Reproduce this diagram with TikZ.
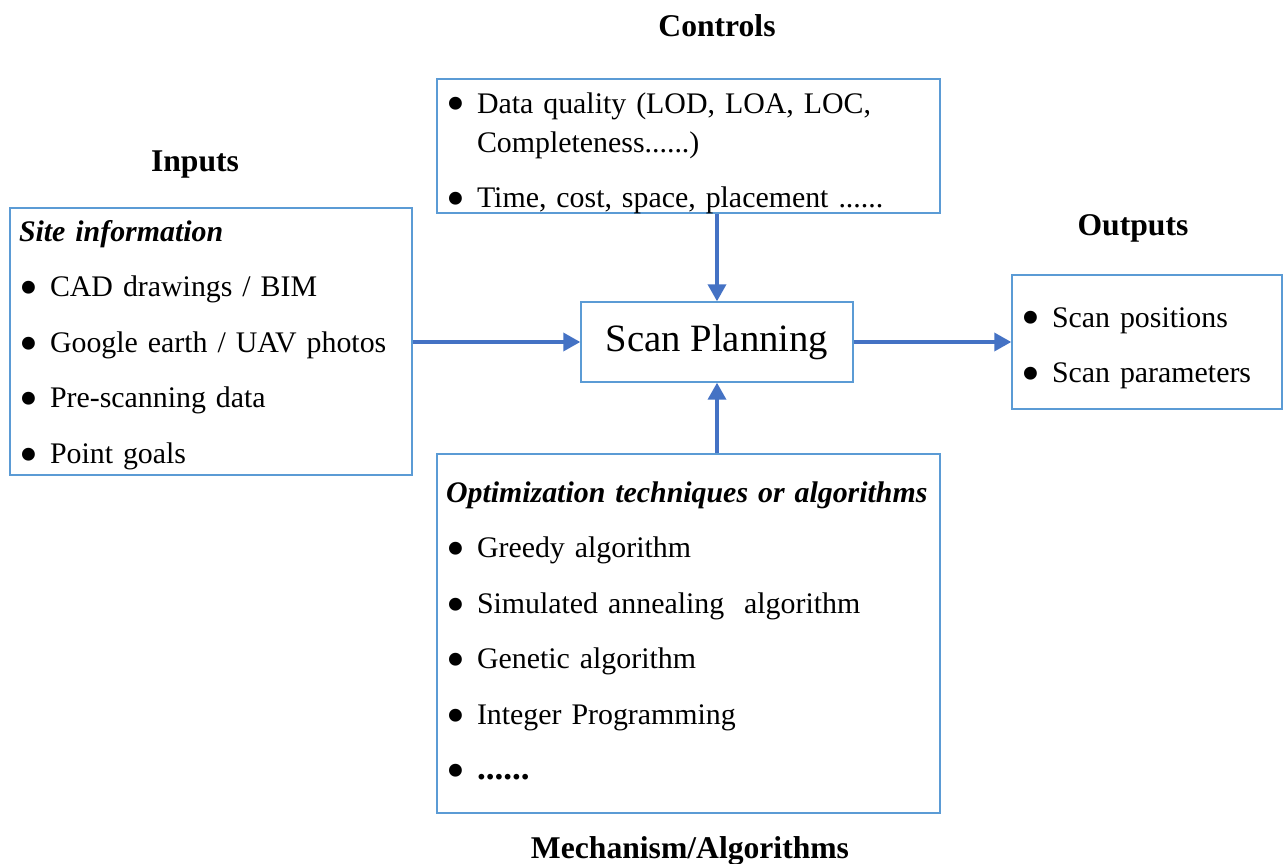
\documentclass[tikz,border=0pt]{standalone}
\usepackage{fontspec}
\setmainfont{Liberation Serif}
\usepackage{tikz}
\usetikzlibrary{arrows.meta}

\definecolor{boxblue}{HTML}{5B9BD5}
\definecolor{flowblue}{HTML}{4472C4}

% one bullet line, wrapped lines hang under the text
\newcommand{\dotmark}{\raisebox{-0.3em}{\scalebox{1.8}{\textbullet}}}
\newcommand{\bitem}[1]{\noindent\hangindent=0.62cm\hangafter=1\makebox[0.62cm][l]{\dotmark}#1\par}
\newcommand{\listsetup}{\setlength{\parskip}{9.4pt}}

\begin{document}
\begin{tikzpicture}[
        box/.style = {draw=boxblue, line width=0.8pt, inner ysep=0pt, inner xsep=0.18cm, align=left,
                      font=\fontsize{17}{22.2}\selectfont},
        head/.style = {font=\fontsize{18}{20}\selectfont\bfseries, anchor=base},
        flow/.style = {-{Triangle[length=0.34cm, width=0.36cm]}, draw=flowblue, line width=2pt}]
    \useasboundingbox (0,0) rectangle (25.66,-17.26);

    % centre block
    \node[draw=boxblue, line width=0.8pt, inner sep=0pt, minimum width=5.44cm, minimum height=1.6cm,
          font=\fontsize{22}{24}\selectfont] (plan) at (14.34,-6.84) {Scan Planning};

    % the four surrounding boxes
    \node[box, text width=7.68cm, text height=0.66cm, text depth=4.68cm] (inputs) at (4.22,-6.83) {\listsetup
        \noindent\textbf{\textit{Site information}}\par
        \bitem{CAD drawings / BIM}
        \bitem{Google earth / UAV photos}
        \bitem{Pre-scanning data}
        \bitem{Point goals}};
    \node[box, text width=9.70cm, text height=0.68cm, text depth=2.0cm] (controls) at (13.77,-2.92) {\listsetup
        \bitem{Data quality (LOD, LOA, LOC,\hfil\break Completeness......)}
        \bitem{Time, cost, space, placement ......}};
    \node[box, text width=5.04cm, text height=1.04cm, text depth=1.64cm] (outputs) at (22.94,-6.84) {\listsetup
        \bitem{Scan positions}
        \bitem{Scan parameters}};
    \node[box, text width=9.70cm, text height=0.96cm, text depth=6.22cm] (mech) at (13.77,-12.67) {\listsetup
        \noindent\textbf{\textit{Optimization techniques or algorithms}}\par
        \bitem{Greedy algorithm}
        \bitem{Simulated annealing\ \ algorithm}
        \bitem{Genetic algorithm}
        \bitem{Integer Programming}
        \bitem{{\fontsize{20}{22}\selectfont\textbf{......}}}};

    % titles
    \node[head] (tcontrols) at (14.34,-0.72) {Controls};
    \node[head] (tinputs) at (3.9,-3.42) {Inputs};
    \node[head] (toutputs) at (22.66,-4.70) {Outputs};
    \node[head] (tmech) at (13.8,-17.16) {Mechanism/Algorithms};

    % flows into and out of the planning block
    \draw[flow] (inputs.east |- plan) -- (plan.west);
    \draw[flow] (plan.east) -- (outputs.west |- plan);
    \draw[flow] (plan |- controls.south) -- (plan.north);
    \draw[flow] (plan |- mech.north) -- (plan.south);
\end{tikzpicture}
\end{document}
